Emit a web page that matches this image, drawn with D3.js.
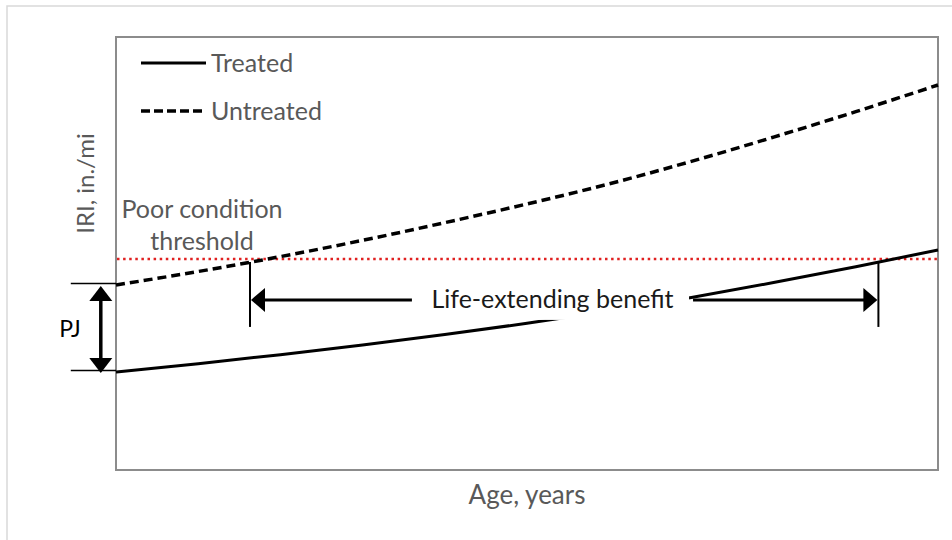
<!DOCTYPE html>
<html>
<head>
<meta charset="utf-8">
<script src="https://cdn.jsdelivr.net/npm/d3@7"></script>
<style>
  body { margin: 0; background: #fff; }
  text { font-family: Lato, "Open Sans", sans-serif; }
</style>
</head>
<body>
<div id="chart"></div>
<script>
var width = 952;
var height = 540;

// ages (years) and IRI (in./mi)
var ages = [0, 2, 4, 6, 8, 10, 12, 14, 16, 18, 20];
var untreated = [106.8, 114.6, 123.2, 132.6, 142.8, 153.6, 165.2, 178.2, 192.2, 206.9, 222.3];
var treated = [56.6, 61.4, 66.6, 72.2, 78.2, 84.7, 91.8, 99.6, 108.2, 117.4, 127.0];
var threshold = 121.8;

// life-extending benefit annotation
var lifeAges = [3.26, 18.55];        // where each curve reaches the threshold
var arrowTails = [7.2, 14.04];       // arrow starts next to the label
var arrowIRI = 98.2;
var tickRange = [82.6, 120.1];
var pjAge = -0.37;
var pjTickAge = -1.1;

var legendItems = ["Treated", "Untreated"];

var margin = {left: 116, right: 14, top: 37, bottom: 70};

var svg = d3.select("#chart")
    .append("svg")
      .attr("width", width)
      .attr("height", height);

var x = d3.scaleLinear().domain([0, 20]).range([margin.left, width - margin.right]);
var y = d3.scaleLinear().domain([0, 250]).range([height - margin.bottom, margin.top]);

// outer light frame
svg.append("rect")
    .attr("x", 7).attr("y", 6)
    .attr("width", width + 20).attr("height", height + 20)
    .attr("fill", "none")
    .attr("stroke", "#d9d9d9")
    .attr("stroke-width", 1.5);

// plot frame
svg.append("rect")
    .attr("x", x(0)).attr("y", y(250))
    .attr("width", x(20) - x(0)).attr("height", y(0) - y(250))
    .attr("fill", "none")
    .attr("stroke", "#8c8c8c")
    .attr("stroke-width", 2);

var line = d3.line()
    .x(function(d, i) { return x(ages[i]); })
    .y(function(d) { return y(d); })
    .curve(d3.curveMonotoneX);

// threshold
svg.append("line")
    .attr("x1", x(0) + 1).attr("x2", x(20) - 1)
    .attr("y1", y(threshold)).attr("y2", y(threshold))
    .attr("stroke", "#e02020")
    .attr("stroke-width", 2.5)
    .attr("stroke-dasharray", "2.5,3.6");

svg.append("path")
    .datum(untreated)
    .attr("d", line)
    .attr("fill", "none")
    .attr("stroke", "#000")
    .attr("stroke-width", 3.5)
    .attr("stroke-dasharray", "9,5");

svg.append("path")
    .datum(treated)
    .attr("d", line)
    .attr("fill", "none")
    .attr("stroke", "#000")
    .attr("stroke-width", 3);

// label box hides the treated line
svg.append("rect")
    .attr("x", x(arrowTails[0]) + 6).attr("y", y(arrowIRI) - 18)
    .attr("width", x(arrowTails[1]) - x(arrowTails[0]) - 10).attr("height", 38)
    .attr("fill", "#fff");

svg.append("text")
    .attr("x", (x(arrowTails[0]) + x(arrowTails[1])) / 2)
    .attr("y", y(arrowIRI) + 8)
    .attr("text-anchor", "middle")
    .attr("font-size", "25px")
    .attr("fill", "#1a1a1a")
    .text("Life-extending benefit");

// vertical ticks at the life ages
svg.selectAll("line.life")
    .data(lifeAges)
    .enter().append("line")
    .attr("class", "life")
    .attr("x1", function(d) { return x(d); })
    .attr("x2", function(d) { return x(d); })
    .attr("y1", y(tickRange[1]))
    .attr("y2", y(tickRange[0]))
    .attr("stroke", "#000")
    .attr("stroke-width", 2);

function arrowHead(tipX, tipY, dir, len, half) {
    // dir: [dx, dy] unit vector the head points to
    var bx = tipX - dir[0] * len, by = tipY - dir[1] * len;
    var px = -dir[1] * half, py = dir[0] * half;
    return "M" + tipX + "," + tipY + "L" + (bx + px) + "," + (by + py) + "L" + (bx - px) + "," + (by - py) + "Z";
}

// horizontal arrows
var arrows = [
    {from: arrowTails[0], to: lifeAges[0], dir: -1},
    {from: arrowTails[1], to: lifeAges[1], dir: 1}
];
arrows.forEach(function(a) {
    var tip = x(a.to) - a.dir * 1;
    svg.append("line")
        .attr("x1", x(a.from)).attr("x2", tip - a.dir * 10)
        .attr("y1", y(arrowIRI)).attr("y2", y(arrowIRI))
        .attr("stroke", "#000").attr("stroke-width", 3);
    svg.append("path")
        .attr("d", arrowHead(tip, y(arrowIRI), [a.dir, 0], 14, 12))
        .attr("fill", "#000");
});

// PJ jump
[untreated[0], treated[0]].forEach(function(v) {
    svg.append("line")
        .attr("x1", x(pjTickAge)).attr("x2", x(0))
        .attr("y1", y(v) - 1.5).attr("y2", y(v) - 1.5)
        .attr("stroke", "#000").attr("stroke-width", 1.5);
});
svg.append("line")
    .attr("x1", x(pjAge)).attr("x2", x(pjAge))
    .attr("y1", y(untreated[0]) + 12).attr("y2", y(treated[0]) - 12)
    .attr("stroke", "#000").attr("stroke-width", 3.5);
svg.append("path")
    .attr("d", arrowHead(x(pjAge), y(untreated[0]) + 1, [0, -1], 15, 11.5))
    .attr("fill", "#000");
svg.append("path")
    .attr("d", arrowHead(x(pjAge), y(treated[0]) + 1, [0, 1], 15, 11.5))
    .attr("fill", "#000");
svg.append("text")
    .attr("x", x(pjAge) - 20)
    .attr("y", (y(untreated[0]) + y(treated[0])) / 2 + 9)
    .attr("text-anchor", "end")
    .attr("font-size", "23px")
    .attr("fill", "#000")
    .text("PJ");

// threshold label
svg.append("text")
    .attr("x", 202).attr("y", 218)
    .attr("text-anchor", "middle")
    .attr("font-size", "25px")
    .attr("fill", "#595959")
    .text("Poor condition");
svg.append("text")
    .attr("x", 202).attr("y", 250)
    .attr("text-anchor", "middle")
    .attr("font-size", "25px")
    .attr("fill", "#595959")
    .text("threshold");

// legend
var legend = svg.selectAll("g.legend")
    .data(legendItems)
    .enter().append("g")
    .attr("class", "legend")
    .attr("transform", function(d, i) { return "translate(141," + (63 + i * 48) + ")"; });

legend.append("line")
    .attr("x1", 0).attr("x2", 65)
    .attr("stroke", "#000")
    .attr("stroke-width", function(d, i) { return i ? 3.5 : 3; })
    .attr("stroke-dasharray", function(d, i) { return i ? "9,4" : null; });

legend.append("text")
    .attr("x", 70).attr("y", 9)
    .attr("font-size", "25px")
    .attr("fill", "#595959")
    .text(function(d) { return d; });

// axis titles
svg.append("text")
    .attr("x", (x(0) + x(20)) / 2)
    .attr("y", 504)
    .attr("text-anchor", "middle")
    .attr("font-size", "26px")
    .attr("fill", "#595959")
    .text("Age, years");

svg.append("text")
    .attr("transform", "translate(94," + ((y(0) + y(250)) / 2 - 70) + ") rotate(-90)")
    .attr("text-anchor", "middle")
    .attr("font-size", "24px")
    .attr("fill", "#595959")
    .text("IRI, in./mi");
</script>
</body>
</html>
